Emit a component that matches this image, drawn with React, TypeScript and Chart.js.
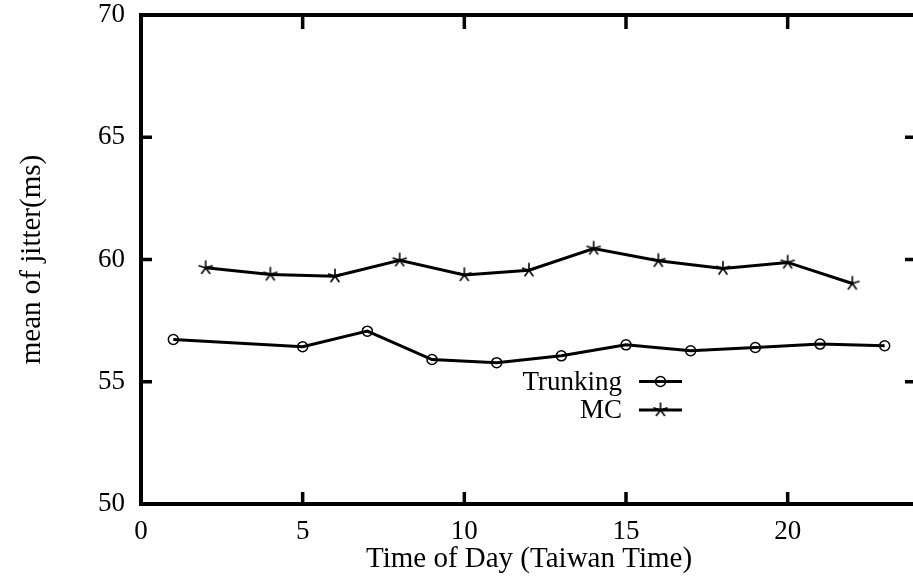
import React, { useEffect, useRef } from "react";
import { Chart, registerables } from "chart.js";

Chart.register(...registerables);

// ---- data ----
const trunkingHours = [1, 5, 7, 9, 11, 13, 15, 17, 19, 21, 23];
const trunkingJitter = [56.73, 56.43, 57.07, 55.91, 55.78, 56.06, 56.51, 56.27, 56.4, 56.54, 56.47];
const mcHours = [2, 4, 6, 8, 10, 12, 14, 16, 18, 20, 22];
const mcJitter = [59.66, 59.39, 59.32, 59.97, 59.37, 59.56, 60.45, 59.95, 59.63, 59.88, 59.02];
const seriesNames = ["Trunking", "MC"];
const xTitle = "Time of Day (Taiwan Time)";
const yTitle = "mean of jitter(ms)";
const xRange = [0, 24];
const yRange = [50, 70];
const tickStep = 5;

const CANVAS_W = 930;
const CANVAS_H = 579;
const VIEW_W = 913;
const AREA_LEFT = 141;
const AREA_RIGHT = 917;
const AREA_TOP = 15;
const AREA_BOTTOM = 504;
const FONT = "'Liberation Serif', 'Times New Roman', serif";
const FONT_SIZE = 27;
const TITLE_SIZE = 29;

function makeStar(): HTMLCanvasElement {
  const s = 18;
  const c = document.createElement("canvas");
  c.width = s;
  c.height = s;
  const g = c.getContext("2d")!;
  g.strokeStyle = "#000";
  g.lineWidth = 1.6;
  const r = 7.5;
  const cx = s / 2;
  const cy = s / 2;
  g.beginPath();
  for (let i = 0; i < 5; i++) {
    const a = -Math.PI / 2 + (i * 2 * Math.PI) / 5;
    g.moveTo(cx, cy);
    g.lineTo(cx + r * Math.cos(a), cy + r * Math.sin(a));
  }
  g.stroke();
  return c;
}

export default function App() {
  const ref = useRef<HTMLCanvasElement | null>(null);

  useEffect(() => {
    if (!ref.current) return;
    const star = makeStar();

    const framePlugin = {
      id: "gnuframe",
      afterDatasetsDraw(chart: any) {
        const { ctx, chartArea: a, scales } = chart;
        const xs = scales.x;
        const ys = scales.y;
        ctx.save();
        ctx.strokeStyle = "#000";
        ctx.lineWidth = 3.5;
        ctx.beginPath();
        for (const t of xs.ticks) {
          const px = xs.getPixelForValue(t.value);
          if (px <= a.left + 2 || px >= a.right - 2) continue;
          ctx.moveTo(px, a.bottom);
          ctx.lineTo(px, a.bottom - 12);
          ctx.moveTo(px, a.top);
          ctx.lineTo(px, a.top + 14);
        }
        for (const t of ys.ticks) {
          const py = ys.getPixelForValue(t.value);
          if (py <= a.top + 2 || py >= a.bottom - 2) continue;
          ctx.moveTo(a.left, py);
          ctx.lineTo(a.left + 11, py);
          ctx.moveTo(a.right, py);
          ctx.lineTo(a.right - 12, py);
        }
        ctx.stroke();
        ctx.lineWidth = 4;
        ctx.strokeRect(a.left, a.top, a.right - a.left, a.bottom - a.top);

        // legend
        ctx.font = `${FONT_SIZE}px ${FONT}`;
        ctx.fillStyle = "#000";
        ctx.textAlign = "right";
        ctx.textBaseline = "middle";
        const rows = [381.5, 410];
        chart.data.datasets.forEach((ds: any, i: number) => {
          const y = rows[i];
          ctx.fillText(ds.label, 622, y + 1);
          ctx.lineWidth = 3;
          ctx.beginPath();
          ctx.moveTo(639, y);
          ctx.lineTo(682, y);
          ctx.stroke();
          if (i === 0) {
            ctx.lineWidth = 1.5;
            ctx.beginPath();
            ctx.arc(660.5, y, 5, 0, Math.PI * 2);
            ctx.stroke();
          } else {
            ctx.drawImage(star, 660.5 - star.width / 2, y - star.height / 2);
          }
        });
        ctx.restore();
      },
    };

    const tickFont = { family: FONT, size: FONT_SIZE };
    const titleFont = { family: FONT, size: TITLE_SIZE };

    const chart = new Chart(ref.current, {
      type: "line",
      data: {
        datasets: [
          {
            label: seriesNames[0],
            data: trunkingHours.map((h, i) => ({ x: h, y: trunkingJitter[i] })),
            borderColor: "#000",
            borderWidth: 3,
            pointStyle: "circle",
            pointRadius: 5,
            pointBorderWidth: 1.5,
            pointBorderColor: "#000",
            pointBackgroundColor: "rgba(0,0,0,0)",
            tension: 0,
          },
          {
            label: seriesNames[1],
            data: mcHours.map((h, i) => ({ x: h, y: mcJitter[i] })),
            borderColor: "#000",
            borderWidth: 3,
            pointStyle: star as any,
            pointRadius: 8,
            tension: 0,
          },
        ],
      },
      options: {
        animation: false,
        responsive: false,
        maintainAspectRatio: false,
        layout: {
          padding: { top: AREA_TOP, right: CANVAS_W - AREA_RIGHT, bottom: 0, left: 0 },
        },
        plugins: {
          legend: { display: false },
          tooltip: { enabled: false },
        },
        scales: {
          x: {
            type: "linear",
            min: xRange[0],
            max: xRange[1],
            grid: { display: false, drawTicks: false, tickLength: 0 },
            border: { display: false },
            ticks: {
              stepSize: tickStep,
              includeBounds: false,
              font: tickFont,
              color: "#000",
              padding: 12,
              maxRotation: 0,
            },
            title: {
              display: true,
              text: xTitle,
              font: titleFont,
              color: "#000",
              padding: { top: 0, bottom: 2 },
            },
            afterFit(s: any) {
              s.height = CANVAS_H - AREA_BOTTOM;
              s.paddingLeft = 0;
              s.paddingRight = 0;
              s.paddingTop = 0;
              s.paddingBottom = 0;
            },
          },
          y: {
            type: "linear",
            min: yRange[0],
            max: yRange[1],
            grid: { display: false, drawTicks: false, tickLength: 0 },
            border: { display: false },
            ticks: {
              stepSize: tickStep,
              includeBounds: false,
              font: tickFont,
              color: "#000",
              padding: 16,
            },
            title: {
              display: true,
              text: yTitle,
              font: titleFont,
              color: "#000",
              padding: { top: 15, bottom: 0 },
            },
            afterFit(s: any) {
              s.width = AREA_LEFT;
              s.paddingLeft = 0;
              s.paddingRight = 0;
              s.paddingTop = 0;
              s.paddingBottom = 0;
            },
          },
        },
      },
      plugins: [framePlugin],
    } as any);

    return () => chart.destroy();
  }, []);

  return (
    <div
      style={{
        position: "fixed",
        left: 0,
        top: 0,
        width: VIEW_W,
        height: CANVAS_H,
        overflow: "hidden",
        background: "#fff",
      }}
    >
      <canvas
        ref={ref}
        width={CANVAS_W}
        height={CANVAS_H}
        style={{ width: CANVAS_W, height: CANVAS_H, display: "block" }}
      />
    </div>
  );
}
